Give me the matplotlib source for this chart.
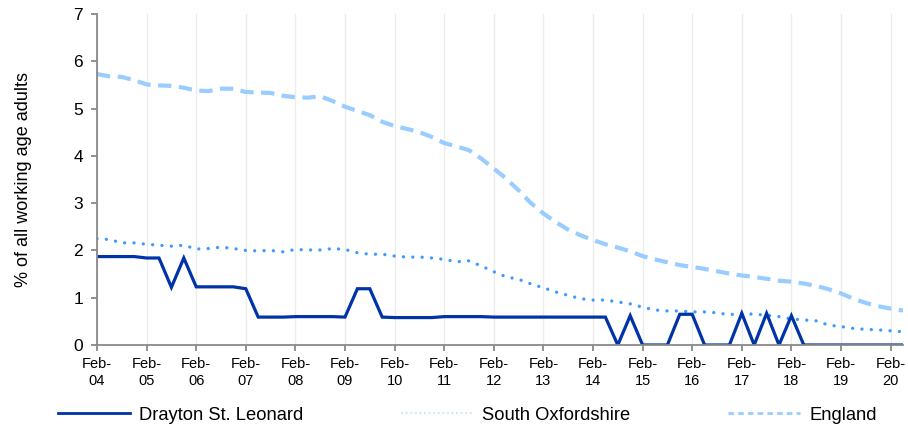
import matplotlib
matplotlib.use("Agg")
from matplotlib import pyplot as plt
from matplotlib.lines import Line2D

# quarterly values, Feb-04 to May-20
drayton = [1.87, 1.87, 1.87, 1.87, 1.84, 1.84, 1.22, 1.84,
           1.23, 1.23, 1.23, 1.23, 1.19, 0.59, 0.59, 0.59,
           0.60, 0.60, 0.60, 0.60, 0.59, 1.19, 1.19, 0.59,
           0.58, 0.58, 0.58, 0.58, 0.60, 0.60, 0.60, 0.60,
           0.59, 0.59, 0.59, 0.59, 0.59, 0.59, 0.59, 0.59,
           0.59, 0.59, 0.00, 0.62, 0.00, 0.00, 0.00, 0.65,
           0.65, 0.00, 0.00, 0.00, 0.67, 0.00, 0.67, 0.00,
           0.62, 0.00, 0.00, 0.00, 0.00, 0.00, 0.00, 0.00,
           0.00, 0.00]

south_oxon = [2.25, 2.23, 2.16, 2.16, 2.13, 2.11, 2.09, 2.11,
              2.03, 2.04, 2.07, 2.04, 2.00, 1.99, 2.00, 1.97,
              2.02, 2.01, 2.01, 2.04, 2.02, 1.95, 1.92, 1.92,
              1.88, 1.86, 1.86, 1.84, 1.81, 1.76, 1.78, 1.67,
              1.55, 1.44, 1.39, 1.29, 1.21, 1.12, 1.05, 0.98,
              0.95, 0.95, 0.91, 0.87, 0.80, 0.74, 0.72, 0.72,
              0.70, 0.70, 0.68, 0.64, 0.67, 0.65, 0.63, 0.60,
              0.55, 0.53, 0.51, 0.42, 0.39, 0.35, 0.33, 0.32,
              0.30, 0.28]

england = [5.73, 5.68, 5.67, 5.60, 5.51, 5.49, 5.48, 5.44,
           5.38, 5.37, 5.42, 5.42, 5.35, 5.34, 5.33, 5.27,
           5.24, 5.23, 5.26, 5.16, 5.04, 4.95, 4.86, 4.72,
           4.63, 4.57, 4.50, 4.40, 4.27, 4.20, 4.12, 3.94,
           3.73, 3.52, 3.27, 3.00, 2.78, 2.60, 2.44, 2.32,
           2.22, 2.13, 2.06, 1.98, 1.88, 1.81, 1.75, 1.69,
           1.65, 1.61, 1.56, 1.51, 1.47, 1.44, 1.40, 1.36,
           1.34, 1.30, 1.25, 1.18, 1.09, 0.98, 0.89, 0.82,
           0.77, 0.73]

years = ["04", "05", "06", "07", "08", "09", "10", "11", "12",
         "13", "14", "15", "16", "17", "18", "19", "20"]
tick_labels = ["Feb-\n" + y for y in years]

c_dray = "#0033a8"
c_south = "#3d9bff"
c_eng = "#99ccff"
grey = "#898989"


def main():
    plt.rcParams["font.family"] = ["Liberation Sans", "DejaVu Sans"]
    fig = plt.figure(figsize=(9.08, 4.30), dpi=100)
    ax = fig.add_axes([97 / 908, 85 / 430, 806 / 908, 331 / 430])

    x = list(range(len(england)))
    ax.plot(x, england, color=c_eng, lw=3.0, linestyle=(0, (3.2, 1.8)),
            dash_capstyle="butt")
    ax.plot(x, south_oxon, color=c_south, lw=2.4, linestyle=(0, (0.01, 2.8)),
            dash_capstyle="round")
    ax.plot(x, drayton, color=c_dray, lw=2.3, solid_joinstyle="miter")

    ax.set_xlim(0, len(england) - 1)
    ax.set_ylim(0, 7)
    ax.set_yticks(range(0, 8))
    ax.set_xticks([4 * i for i in range(len(years))])
    ax.set_xticklabels(tick_labels, family=["Liberation Sans Narrow", "Liberation Sans"],
                       fontsize=10.5, linespacing=1.2)
    ax.tick_params(axis="y", labelsize=12.5, length=4, width=1.3, color=grey, pad=6)
    ax.tick_params(axis="x", length=4, width=1.3, color=grey, pad=5)
    ax.grid(axis="x", color="#ececec", lw=1)
    ax.set_axisbelow(True)
    for s in ["top", "right"]:
        ax.spines[s].set_visible(False)
    for s in ["left", "bottom"]:
        ax.spines[s].set_color(grey)
        ax.spines[s].set_linewidth(1.3)

    ax.set_ylabel("% of all working age adults", fontsize=13, labelpad=30)

    handles = [
        Line2D([], [], color=c_dray, lw=2),
        Line2D([], [], color="#d4e8fb", lw=1.5, linestyle=(0, (1, 1.2))),
        Line2D([], [], color=c_eng, lw=2, linestyle=(0, (2, 1.5))),
    ]
    names = ["Drayton St. Leonard", "South Oxfordshire", "England"]
    fig.legend(handles, names, loc="center left", bbox_to_anchor=(41 / 908, 15 / 430),
               ncol=3, frameon=False, fontsize=13.2, handlelength=3.95,
               handletextpad=0.5, columnspacing=5.3)

    fig.savefig("out.png", dpi=100)


if __name__ == '__main__':
    main()
